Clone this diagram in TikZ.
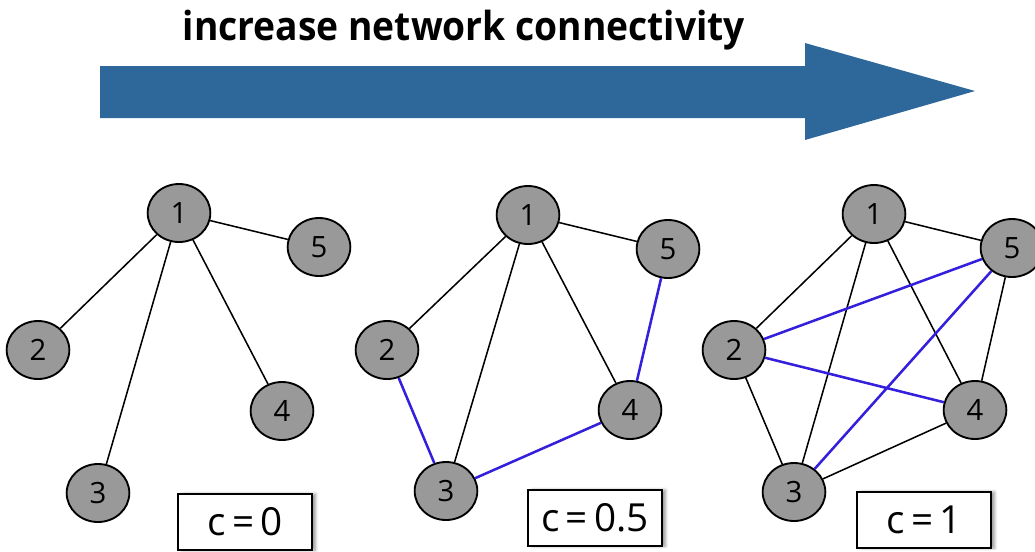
\documentclass[tikz,border=0pt]{standalone}
\usepackage{fontspec}
\setmainfont{Open Sans}
\usetikzlibrary{shapes.geometric,shadows.blur}
\definecolor{arrowblue}{RGB}{46,104,155}
\definecolor{newedge}{RGB}{52,32,220}
\definecolor{nodegray}{RGB}{153,153,153}
\tikzset{
  vertex/.style={ellipse,draw=black,line width=1.4pt,fill=nodegray,
    minimum width=47pt,minimum height=43.5pt,inner sep=0pt,
    font=\fontsize{22}{22}\selectfont},
  oldedge/.style={draw=black,line width=1.15pt},
  addedge/.style={draw=newedge,line width=1.9pt},
  cbox/.style={draw=black,line width=1.5pt,fill=white,minimum width=100pt,
    minimum height=42pt,inner sep=0pt,font=\fontsize{29}{29}\selectfont,
    blur shadow={shadow xshift=3pt,shadow yshift=0pt,shadow blur steps=6,shadow opacity=40}}
}
\begin{document}
\begin{tikzpicture}[x=0.75pt,y=-0.75pt]
\useasboundingbox (0,0) rectangle (1035,551);

% direction arrow and heading
\fill[arrowblue] (100,66) -- (805,66) -- (805,43) -- (975,91) -- (805,140)
  -- (805,118) -- (100,118) -- cycle;
\node[anchor=base,xscale=0.93,font=\fontsize{30}{30}\selectfont\bfseries] (title) at (464,40)
  {increase network connectivity};

% c = 0
\node[vertex] (a1) at (179,213) {1};
\node[vertex] (a2) at (38,350) {2};
\node[vertex] (a3) at (98,493) {3};
\node[vertex] (a4) at (282,411) {4};
\node[vertex] (a5) at (319,247) {5};
\draw[oldedge] (a1) -- (a2);
\draw[oldedge] (a1) -- (a3);
\draw[oldedge] (a1) -- (a4);
\draw[oldedge] (a1) -- (a5);
\node[cbox] (ca) at (245,522) {c\,=\,0};

% c = 0.5
\node[vertex] (b1) at (528,215) {1};
\node[vertex] (b2) at (387,350) {2};
\node[vertex] (b3) at (446,491) {3};
\node[vertex] (b4) at (630,410) {4};
\node[vertex] (b5) at (668,249) {5};
\draw[oldedge] (b1) -- (b2);
\draw[oldedge] (b1) -- (b3);
\draw[oldedge] (b1) -- (b4);
\draw[oldedge] (b1) -- (b5);
\draw[addedge] (b2) -- (b3);
\draw[addedge] (b3) -- (b4);
\draw[addedge] (b4) -- (b5);
\node[cbox] (cb) at (595,518) {c\,=\,0.5};

% c = 1
\node[vertex] (d1) at (874,214) {1};
\node[vertex] (d2) at (734,350) {2};
\node[vertex] (d3) at (794,492) {3};
\node[vertex] (d4) at (975,410) {4};
\node[vertex] (d5) at (1012,248) {5};
\draw[oldedge] (d1) -- (d2);
\draw[oldedge] (d1) -- (d3);
\draw[oldedge] (d1) -- (d4);
\draw[oldedge] (d1) -- (d5);
\draw[oldedge] (d2) -- (d3);
\draw[oldedge] (d3) -- (d4);
\draw[oldedge] (d4) -- (d5);
\draw[addedge] (d2) -- (d5);
\draw[addedge] (d2) -- (d4);
\draw[addedge] (d3) -- (d5);
\node[cbox] (cd) at (924,520) {c\,=\,1};
\end{tikzpicture}
\end{document}
